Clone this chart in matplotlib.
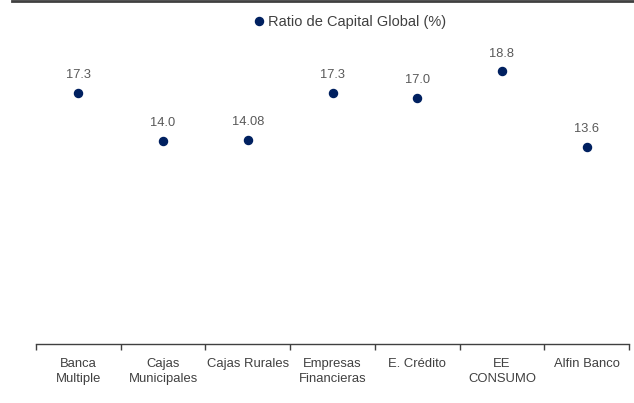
import matplotlib
matplotlib.use("Agg")
import matplotlib.pyplot as plt
from matplotlib.lines import Line2D

categories = ["Banca\nMultiple", "Cajas\nMunicipales", "Cajas Rurales", "Empresas\nFinancieras",
              "E. Crédito", "EE\nCONSUMO", "Alfin Banco"]
values = [17.3, 14.0, 14.08, 17.3, 17.0, 18.8, 13.6]
labels = ["17.3", "14.0", "14.08", "17.3", "17.0", "18.8", "13.6"]
series_name = "Ratio de Capital Global (%)"

plt.rcParams['font.family'] = ['Liberation Sans', 'DejaVu Sans']
navy = "#002060"
grey_txt = "#595959"

fig = plt.figure(figsize=(6.34, 4.03), dpi=100)
ax = fig.add_axes([36/634, 59/403, 593/634, 290/403])

x = list(range(len(categories)))
ax.plot(x, values, linestyle='none', marker='o', ms=5.8, color=navy)
for xi, v, lab in zip(x, values, labels):
    ax.annotate(lab, (xi, v), xytext=(0, 8.5), textcoords='offset points',
                ha='center', va='bottom', fontsize=9.3, color=grey_txt)

ax.set_xlim(-0.5, len(categories) - 0.5)
ax.set_ylim(0, 20)
ax.set_yticks([])
for s in ['top', 'right', 'left']:
    ax.spines[s].set_visible(False)
ax.spines['bottom'].set_color('#404040')
ax.spines['bottom'].set_linewidth(1.0)

ax.set_xticks([i - 0.5 for i in range(len(categories) + 1)], minor=False)
ax.set_xticklabels([])
ax.tick_params(axis='x', which='major', length=4, color='#404040', width=1.0)
ax.set_xticks(x, minor=True)
ax.set_xticklabels(categories, minor=True, fontsize=9.4, color='#404040', linespacing=1.4)
ax.tick_params(axis='x', which='minor', length=0, pad=10)

# legend
handle = Line2D([], [], linestyle='none', marker='o', ms=5.8, color=navy)
fig.legend([handle], [series_name], loc='center', bbox_to_anchor=(349/634, 1 - 22/403),
           frameon=False, fontsize=10.5, handletextpad=0.1, handlelength=1.0,
           labelcolor='#404040')

# top border line
fig.add_artist(Line2D([12/634, 1], [1 - 1/403, 1 - 1/403], color='#404040', lw=2.0,
                      transform=fig.transFigure))

fig.savefig("out.png", dpi=100, facecolor='white')
